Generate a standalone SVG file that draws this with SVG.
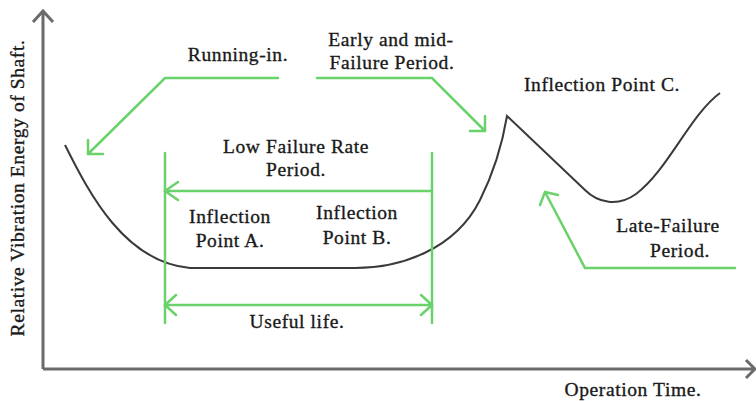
<svg xmlns="http://www.w3.org/2000/svg" width="756" height="401" viewBox="0 0 756 401">
<style>
  text { font-family: "Liberation Serif", "Times New Roman", serif; font-size: 19.5px; letter-spacing: 0.6px; fill: #1a1a1a; stroke: #1a1a1a; stroke-width: 0.35; text-anchor: middle; }
  .axis { stroke: #6b6b6b; stroke-width: 3; fill: none; }
  .curve { stroke: #3a3a3a; stroke-width: 2; fill: none; }
  .g { stroke: #6ad26a; stroke-width: 2.5; fill: none; stroke-linecap: round; stroke-linejoin: miter; }
</style>
<rect width="756" height="401" fill="#ffffff"/>

<g id="axes">
  <path class="axis" d="M43,369 L43,12 M33,22 L43,11 L53,22"/>
  <path class="axis" d="M43,369 L754,369 M746,360 L755,369 L746,378"/>
  <text transform="translate(24,188) rotate(-90)">Relative Vibration Energy of Shaft.</text>
  <text x="633" y="396">Operation Time.</text>
</g>

<g id="curve">
  <path class="curve" d="M65,145 C90,195 125,262 190,268 L355,268 C400,268 455,250 480,200 C495,170 503,140 507,116 L585,190 C598,203 618,207 636,194 C668,170 690,115 720,93"/>
</g>

<g id="connectors">
  <path class="g" d="M278,78 L165,78 L88,154 M103,154 L88,154 L88,140"/>
  <path class="g" d="M317,78 L432,78 L485,131 M470,131 L485,131 L485,116"/>
  <path class="g" d="M165,153 L165,323 M432,153 L432,323"/>
  <path class="g" d="M432,191 L165,191 M178,182 L165,191 L178,200"/>
  <path class="g" d="M165,305 L432,305 M176,295 L165,305 L176,315 M421,295 L432,305 L421,315"/>
  <path class="g" d="M735,268 L585,268 L545,192 M558,195 L545,192 L540,205"/>
</g>

<g id="label-running-in">
  <text x="238" y="61">Running-in.</text>
</g>
<g id="label-early-mid">
  <text x="391" y="46">Early and mid-</text>
  <text x="392" y="69">Failure Period.</text>
</g>
<g id="label-point-c">
  <text x="602" y="91">Inflection Point C.</text>
</g>
<g id="label-low-failure">
  <text x="296" y="153">Low Failure Rate</text>
  <text x="296" y="176">Period.</text>
</g>
<g id="label-point-a">
  <text x="230" y="223">Inflection</text>
  <text x="230" y="247">Point A.</text>
</g>
<g id="label-point-b">
  <text x="357" y="219">Inflection</text>
  <text x="357" y="244">Point B.</text>
</g>
<g id="label-useful-life">
  <text x="297" y="328">Useful life.</text>
</g>
<g id="label-late-failure">
  <text x="668" y="232">Late-Failure</text>
  <text x="680" y="257">Period.</text>
</g>
</svg>
